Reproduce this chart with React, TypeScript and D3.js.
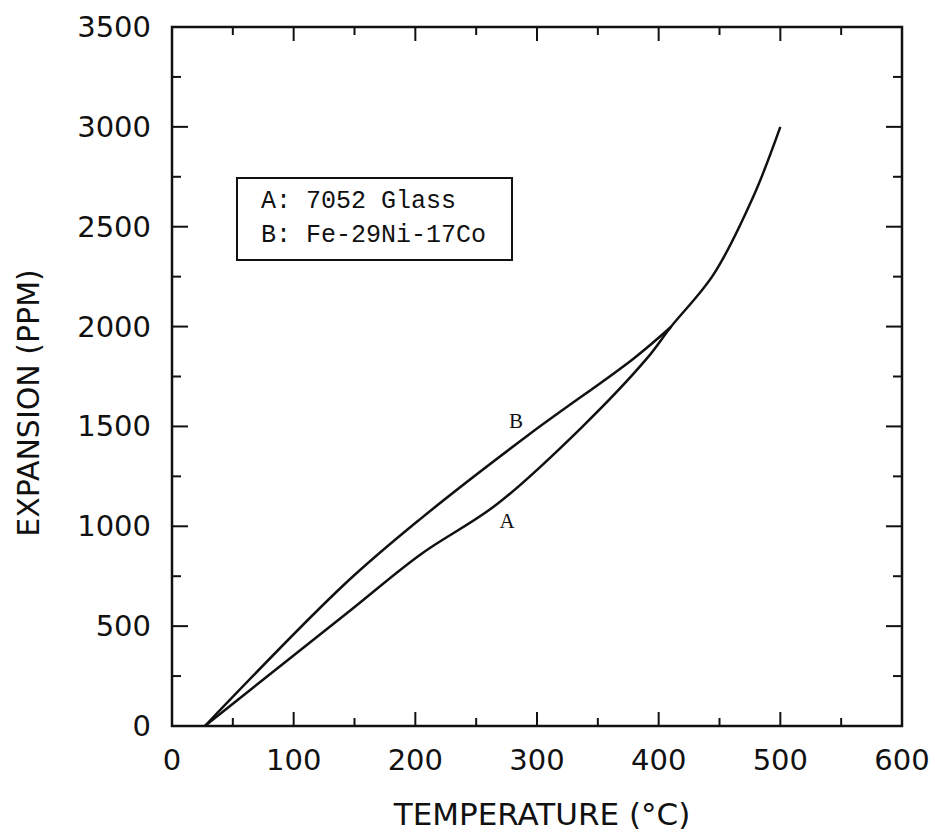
import * as d3 from "d3";

// curve A: 7052 glass, curve B: Fe-29Ni-17Co
const tempA = [27, 146, 204, 267, 337, 390, 410, 445, 478, 500];
const ppmA = [0, 576, 858, 1110, 1497, 1838, 1998, 2260, 2654, 3000];
const tempB = [27, 142, 204, 294, 379, 410];
const ppmB = [0, 711, 1036, 1462, 1838, 1998];

const xTicks = [0, 100, 200, 300, 400, 500, 600];
const yTicks = [0, 500, 1000, 1500, 2000, 2500, 3000, 3500];
const legendRows = ["A: 7052 Glass", "B: Fe-29Ni-17Co"];

export default function App() {
  const width = 935,
    height = 837;
  const left = 172,
    right = 902,
    top = 27,
    bottom = 726;

  const x = d3.scaleLinear().domain([0, 600]).range([left, right]);
  const y = d3.scaleLinear().domain([0, 3500]).range([bottom, top]);

  const line = d3
    .line<[number, number]>()
    .x((d) => x(d[0]))
    .y((d) => y(d[1]))
    .curve(d3.curveCatmullRom.alpha(0.5));

  const dataA = tempA.map((t, i) => [t, ppmA[i]] as [number, number]);
  const dataB = tempB.map((t, i) => [t, ppmB[i]] as [number, number]);

  const xMinor = d3.range(50, 600, 100);
  const yMinor = d3.range(250, 3500, 500);

  const sans = "'DejaVu Sans', sans-serif";
  const serif = "'Liberation Serif', serif";
  const mono = "'Liberation Mono', monospace";

  return (
    <svg
      width={width}
      height={height}
      style={{ position: "absolute", left: 0, top: 0, background: "#fff" }}
    >
      {/* frame */}
      <rect
        x={left}
        y={top}
        width={right - left}
        height={bottom - top}
        fill="none"
        stroke="#111"
        strokeWidth={2.5}
      />

      {/* x ticks, bottom and top */}
      {xTicks.slice(1, -1).map((t) => (
        <g key={"xt" + t}>
          <line x1={x(t)} x2={x(t)} y1={bottom} y2={bottom - 14} stroke="#111" strokeWidth={2} />
          <line x1={x(t)} x2={x(t)} y1={top} y2={top + 14} stroke="#111" strokeWidth={2} />
        </g>
      ))}
      {xMinor.map((t) => (
        <g key={"xm" + t}>
          <line x1={x(t)} x2={x(t)} y1={bottom} y2={bottom - 8} stroke="#111" strokeWidth={2} />
          <line x1={x(t)} x2={x(t)} y1={top} y2={top + 8} stroke="#111" strokeWidth={2} />
        </g>
      ))}

      {/* y ticks, left and right */}
      {yTicks.slice(1, -1).map((t) => (
        <g key={"yt" + t}>
          <line x1={left} x2={left + 16} y1={y(t)} y2={y(t)} stroke="#111" strokeWidth={2} />
          <line x1={right} x2={right - 16} y1={y(t)} y2={y(t)} stroke="#111" strokeWidth={2} />
        </g>
      ))}
      {yMinor.map((t) => (
        <g key={"ym" + t}>
          <line x1={left} x2={left + 9} y1={y(t)} y2={y(t)} stroke="#111" strokeWidth={2} />
          <line x1={right} x2={right - 9} y1={y(t)} y2={y(t)} stroke="#111" strokeWidth={2} />
        </g>
      ))}

      {/* tick labels */}
      {xTicks.map((t) => (
        <text
          key={"xl" + t}
          x={x(t)}
          y={770}
          textAnchor="middle"
          fontFamily={sans}
          fontSize={29}
          fill="#111"
        >
          {t}
        </text>
      ))}
      {yTicks.map((t) => (
        <text
          key={"yl" + t}
          x={151}
          y={y(t)}
          textAnchor="end"
          dominantBaseline="central"
          fontFamily={sans}
          fontSize={29}
          fill="#111"
        >
          {t}
        </text>
      ))}

      {/* axis titles */}
      <text
        x={542}
        y={825}
        textAnchor="middle"
        fontFamily={sans}
        fontSize={31}
        fill="#111"
      >
        TEMPERATURE (°C)
      </text>
      <text
        transform={`translate(39 ${403}) rotate(-90)`}
        textAnchor="middle"
        fontFamily={sans}
        fontSize={30}
        fill="#111"
      >
        EXPANSION (PPM)
      </text>

      {/* curves */}
      <path d={line(dataA) ?? ""} fill="none" stroke="#111" strokeWidth={2.5} />
      <path d={line(dataB) ?? ""} fill="none" stroke="#111" strokeWidth={2.5} />
      <text x={516} y={428} textAnchor="middle" fontFamily={serif} fontSize={21} fill="#111">
        B
      </text>
      <text x={507} y={528} textAnchor="middle" fontFamily={serif} fontSize={21} fill="#111">
        A
      </text>

      {/* legend */}
      <rect x={237} y={178} width={275} height={82} fill="#fff" stroke="#111" strokeWidth={2} />
      {legendRows.map((r, i) => (
        <text
          key={r}
          x={261}
          y={208 + i * 34}
          fontFamily={mono}
          fontSize={25}
          fill="#111"
          style={{ whiteSpace: "pre" }}
        >
          {r}
        </text>
      ))}
    </svg>
  );
}
